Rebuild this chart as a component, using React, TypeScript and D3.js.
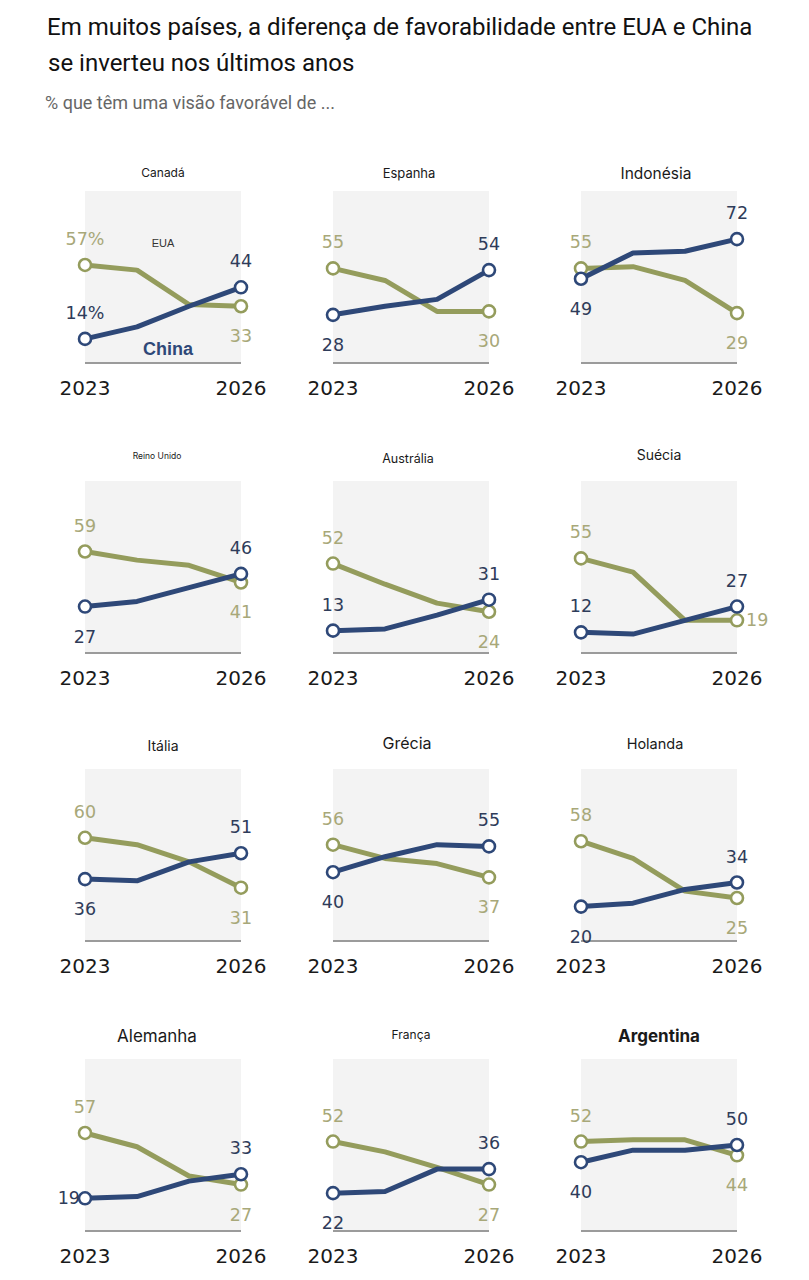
import * as d3 from 'd3'

// Dados (% com visão favorável)
const countries = ['Canadá', 'Espanha', 'Indonésia', 'Reino Unido', 'Austrália', 'Suécia', 'Itália', 'Grécia', 'Holanda', 'Alemanha', 'França', 'Argentina']
const years = [2023, 2024, 2025, 2026]
const usaValues = [
  [57, 54, 34, 33], [55, 48, 30, 30], [55, 56, 48, 29],
  [59, 54, 51, 41], [52, 40, 29, 24], [55, 47, 19, 19],
  [60, 56, 46, 31], [56, 48, 45, 37], [58, 48, 29, 25],
  [57, 49, 32, 27], [52, 46, 37, 27], [52, 53, 53, 44],
]
const chinaValues = [
  [14, 21, 33, 44], [28, 33, 37, 54], [49, 64, 65, 72],
  [27, 30, 38, 46], [13, 14, 22, 31], [12, 11, 19, 27],
  [36, 35, 46, 51], [40, 49, 56, 55], [20, 22, 30, 34],
  [19, 20, 29, 33], [22, 23, 36, 36], [40, 47, 47, 50],
]
const yearTicks = ['2023', '2026']

// layout
const colX = [85, 333, 581]
const plotW = 156
const rowBase = [363, 653, 941, 1231]
const plotH = 172

const OLIVE = '#949c5c'
const OLIVE_TXT = '#a8a879'
const NAVY = '#2e4878'
const NAVY_TXT = '#2f3c5a'

// title look per panel (the source mixes sizes)
const titleStyle: Record<string, { size: number; y: number; weight?: number; dx?: number }> = {
  'Canadá': { size: 12, y: 173 },
  'Espanha': { size: 13, y: 173, dx: -2 },
  'Indonésia': { size: 15.5, y: 174, dx: -3 },
  'Reino Unido': { size: 8.5, y: 456, dx: -6 },
  'Austrália': { size: 12.5, y: 459, dx: -3 },
  'Suécia': { size: 14, y: 455 },
  'Itália': { size: 14, y: 746 },
  'Grécia': { size: 16, y: 743, dx: -4 },
  'Holanda': { size: 14.5, y: 744, dx: -4 },
  'Alemanha': { size: 17, y: 1036, dx: -6 },
  'França': { size: 12, y: 1035 },
  'Argentina': { size: 17, y: 1036, weight: 700 },
}

// where end labels sit: [usStart, chinaStart, usEnd, chinaEnd]
type Pos = 'above' | 'below' | 'left' | 'right'
const labelPos: Record<string, Pos[]> = {
  'Canadá': ['above', 'above', 'below', 'above'],
  'Austrália': ['above', 'above', 'below', 'above'],
  'Suécia': ['above', 'above', 'right', 'above'],
  'Alemanha': ['above', 'left', 'below', 'above'],
}
const defaultPos: Pos[] = ['above', 'below', 'below', 'above']

const numFont = "'DejaVu Sans', sans-serif"

function ValueLabel({ x, y, pos, text, color }: { x: number; y: number; pos: Pos; text: string; color: string }) {
  let tx = x, ty = y, anchor = 'middle'
  if (pos === 'above') ty = y - 20
  if (pos === 'below') ty = y + 36
  if (pos === 'left') { tx = x - 5; ty = y + 6; anchor = 'end' }
  if (pos === 'right') { tx = x + 9; ty = y + 6; anchor = 'start' }
  return (
    <text x={tx} y={ty} textAnchor={anchor} fill={color} fontSize={17.5} fontFamily={numFont}>
      {text}
    </text>
  )
}

function Panel({ i }: { i: number }) {
  const name = countries[i]
  const col = i % 3
  const row = Math.floor(i / 3)
  const x = d3.scalePoint<number>().domain(years).range([colX[col], colX[col] + plotW])
  const y = d3.scaleLinear().domain([0, 100]).range([rowBase[row], rowBase[row] - plotH])
  const line = d3.line<number>()
    .x((_, k) => x(years[k])!)
    .y(d => y(d))
  const us = usaValues[i]
  const cn = chinaValues[i]
  const last = years.length - 1
  const pos = labelPos[name] || defaultPos
  const ts = titleStyle[name]
  const pct = i === 0 ? '%' : ''

  return (
    <g>
      <text
        x={colX[col] + plotW / 2 + (ts.dx || 0)} y={ts.y} dy="0.35em" textAnchor="middle"
        fontSize={ts.size} fontWeight={ts.weight || 400} fill="#1a1a1a"
        fontFamily="Inter, 'Liberation Sans', sans-serif"
      >{name}</text>
      <rect x={colX[col]} y={y(100)} width={plotW} height={y(0) - y(100)} fill="#f3f3f3" />
      <line x1={colX[col]} x2={colX[col] + plotW} y1={y(0)} y2={y(0)} stroke="#9b9b9b" strokeWidth={2} />

      <path d={line(us)!} fill="none" stroke={OLIVE} strokeWidth={5} strokeLinejoin="round" />
      <path d={line(cn)!} fill="none" stroke={NAVY} strokeWidth={5} strokeLinejoin="round" />

      {[0, last].map(k => (
        <circle key={'u' + k} cx={x(years[k])} cy={y(us[k])} r={6} fill="#fff" stroke={OLIVE} strokeWidth={2.6} />
      ))}
      {[0, last].map(k => (
        <circle key={'c' + k} cx={x(years[k])} cy={y(cn[k])} r={6} fill="#fff" stroke={NAVY} strokeWidth={2.6} />
      ))}

      <ValueLabel x={x(years[0])!} y={y(us[0])} pos={pos[0]} text={us[0] + pct} color={OLIVE_TXT} />
      <ValueLabel x={x(years[0])!} y={y(cn[0])} pos={pos[1]} text={cn[0] + pct} color={NAVY_TXT} />
      <ValueLabel x={x(years[last])!} y={y(us[last])} pos={pos[2]} text={String(us[last])} color={OLIVE_TXT} />
      <ValueLabel x={x(years[last])!} y={y(cn[last])} pos={pos[3]} text={String(cn[last])} color={NAVY_TXT} />

      {i === 0 && (
        <g>
          <text x={x(2024)! + 26} y={y(us[0]) - 18} textAnchor="middle" fontSize={11} fill="#333"
            fontFamily="'Liberation Sans', sans-serif">EUA</text>
          <text x={x(2024)! + 31} y={y(0) - 8} textAnchor="middle" fontSize={18} fontWeight={700} fill={NAVY}
            fontFamily="'Liberation Sans', sans-serif">China</text>
        </g>
      )}

      {yearTicks.map(t => (
        <text key={t} x={x(+t)} y={y(0) + 32} textAnchor="middle" fontSize={20} fill="#1a1a1a" fontFamily={numFont}>
          {t}
        </text>
      ))}
    </g>
  )
}

export default function App() {
  return (
    <svg width={809} height={1280} style={{ position: 'absolute', left: 0, top: 0, background: '#fff' }}>
      <text x={47} y={35} fontSize={24} fill="#111" fontFamily="Roboto, sans-serif">
        Em muitos países, a diferença de favorabilidade entre EUA e China
      </text>
      <text x={48} y={71} fontSize={24} fill="#111" fontFamily="Roboto, sans-serif">
        se inverteu nos últimos anos
      </text>
      <text x={45} y={109} fontSize={18} fill="#666" fontFamily="Roboto, sans-serif">
        % que têm uma visão favorável de ...
      </text>
      {countries.map((_, i) => <Panel key={i} i={i} />)}
    </svg>
  )
}
